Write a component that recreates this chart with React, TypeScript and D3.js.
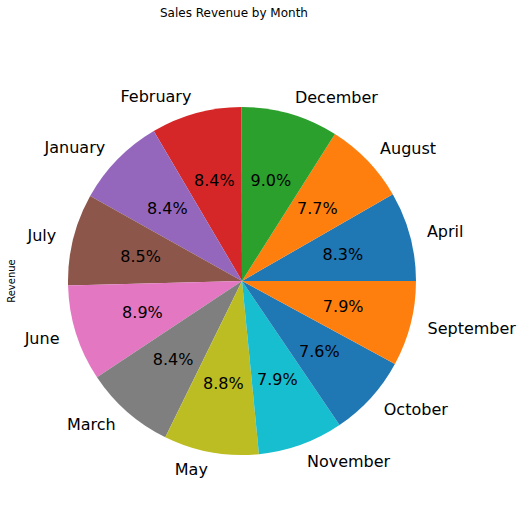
import React from 'react'
import * as d3 from 'd3'

const months = ['April', 'August', 'December', 'February', 'January', 'July', 'June', 'March', 'May', 'November', 'October', 'September']
const revenue = [8.3, 7.7, 9.0, 8.4, 8.4, 8.5, 8.9, 8.4, 8.8, 7.9, 7.6, 7.9]

const cx = 242, cy = 281, r = 174

export default function App() {
  const color = d3.scaleOrdinal<number, string>().domain(d3.range(10)).range(d3.schemeCategory10)
  const total = d3.sum(revenue)
  const pie = d3.pie<number>().sort(null).startAngle(Math.PI / 2).endAngle(Math.PI / 2 - 2 * Math.PI)
  const arcs = pie(revenue)
  const arc = d3.arc<d3.PieArcDatum<number>>().innerRadius(0).outerRadius(r)
  const font = 'DejaVu Sans'
  return (
    <svg width={523} height={506} style={{ position: 'absolute', left: 0, top: 0 }}>
      <rect width={523} height={506} fill="#fff" />
      <text x={234} y={17} textAnchor="middle" fontFamily={font} fontSize={12}>Sales Revenue by Month</text>
      <text transform={`translate(15,${cy}) rotate(-90)`} textAnchor="middle" fontFamily={font} fontSize={10}>Revenue</text>
      <g transform={`translate(${cx},${cy})`}>
        {arcs.map((a, i) => {
          const mid = (a.startAngle + a.endAngle) / 2
          const lx = Math.sin(mid) * r * 1.1, ly = -Math.cos(mid) * r * 1.1
          const px = Math.sin(mid) * r * 0.6, py = -Math.cos(mid) * r * 0.6
          return (
            <g key={months[i]}>
              <path d={arc(a) || ''} fill={color(i % 10)} />
              <text x={lx} y={ly} dy="0.35em" textAnchor={lx > 0 ? 'start' : 'end'} fontFamily={font} fontSize={16}>{months[i]}</text>
              <text x={px} y={py} dy="0.35em" textAnchor="middle" fontFamily={font} fontSize={16}>{(revenue[i] / total * 100).toFixed(1)}%</text>
            </g>
          )
        })}
      </g>
    </svg>
  )
}
